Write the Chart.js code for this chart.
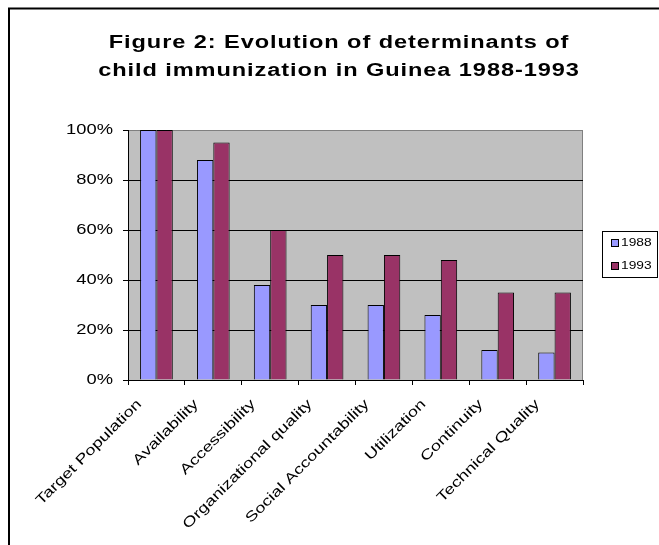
<!DOCTYPE html>
<html>
<head>
<meta charset="utf-8">
<title>Determinants of child immunization in Guinea</title>
<script src="https://cdn.jsdelivr.net/npm/chart.js@4/dist/chart.umd.min.js"></script>
<style>
  html, body { margin: 0; padding: 0; background: #fff; }
  canvas { display: block; }
</style>
</head>
<body>
<canvas id="chart" width="659" height="545"></canvas>
<script>
// Chart data
const TITLE_LINES = ['Figure 2: Evolution of determinants of', 'child immunization in Guinea 1988-1993'];
const CATEGORIES = ['Target Population', 'Availability', 'Accessibility', 'Organizational quality',
                    'Social Accountability', 'Utilization', 'Continuity', 'Technical Quality'];
const SERIES_NAMES = ['1988', '1993'];
const VALUES_1988 = [100, 88, 38, 30, 30, 26, 12, 11];
const VALUES_1993 = [100, 95, 60, 50, 50, 48, 35, 35];
const Y_TICKS = [0, 20, 40, 60, 80, 100];

const FONT = "'Liberation Sans', Arial, sans-serif";
const COLORS = ['#9999FF', '#993366'];
const TEXT_STRETCH = 1.31;   // all text is set slightly wide, like the original worksheet chart

// Widen every text run along its own baseline (works for rotated labels too)
const wideText = {
  id: 'wideText',
  beforeInit(chart) {
    const ctx = chart.ctx;
    const plainFillText = ctx.fillText;
    ctx.fillText = function (text, x, y, maxWidth) {
      this.save();
      this.translate(x, y);
      this.scale(TEXT_STRETCH, 1);
      if (maxWidth === undefined) plainFillText.call(this, text, 0, 0);
      else plainFillText.call(this, text, 0, 0, maxWidth / TEXT_STRETCH);
      this.restore();
    };
  }
};

// Page frame, grey plot background, title and boxed legend
const decorations = {
  id: 'decorations',
  beforeDraw(chart) {
    const { ctx, chartArea: a } = chart;
    ctx.save();
    ctx.fillStyle = '#fff';
    ctx.fillRect(0, 0, chart.width, chart.height);
    ctx.strokeStyle = '#000';
    ctx.lineWidth = 2;
    ctx.beginPath();
    ctx.moveTo(9, chart.height + 4);
    ctx.lineTo(9, 8.5);
    ctx.lineTo(chart.width + 4, 8.5);
    ctx.stroke();
    ctx.fillStyle = '#C0C0C0';
    ctx.fillRect(a.left, a.top, a.right - a.left, a.bottom - a.top);
    ctx.strokeStyle = '#808080';
    ctx.lineWidth = 1;
    ctx.beginPath();
    ctx.moveTo(a.left, a.top + 0.5);
    ctx.lineTo(a.right - 0.5, a.top + 0.5);
    ctx.lineTo(a.right - 0.5, a.bottom);
    ctx.stroke();
    ctx.restore();
  },
  afterDraw(chart) {
    const { ctx } = chart;
    ctx.save();
    // title
    ctx.letterSpacing = '0.7px';
    ctx.fillStyle = '#000';
    ctx.font = 'bold 18px ' + FONT;
    ctx.textAlign = 'center';
    ctx.textBaseline = 'alphabetic';
    TITLE_LINES.forEach((line, i) => ctx.fillText(line, 339, 48 + i * 27.5));
    // legend
    ctx.letterSpacing = '0px';
    const lx = 602.5, ly = 231.5, lw = 55, lh = 46;
    ctx.strokeStyle = '#000';
    ctx.lineWidth = 1;
    ctx.strokeRect(lx, ly, lw, lh);
    ctx.font = '10.5px ' + FONT;
    ctx.textAlign = 'left';
    ctx.textBaseline = 'middle';
    chart.data.datasets.forEach((ds, i) => {
      const cy = 243 + i * 23;
      ctx.fillStyle = ds.backgroundColor;
      ctx.fillRect(611, cy - 4, 8, 8);
      ctx.strokeRect(611.5, cy - 3.5, 7, 7);
      ctx.fillStyle = '#000';
      ctx.fillText(ds.label, 621, cy);
    });
    ctx.restore();
  }
};

new Chart(document.getElementById('chart'), {
  type: 'bar',
  data: {
    labels: CATEGORIES,
    datasets: [
      { label: SERIES_NAMES[0], data: VALUES_1988, backgroundColor: COLORS[0] },
      { label: SERIES_NAMES[1], data: VALUES_1993, backgroundColor: COLORS[1] }
    ]
  },
  options: {
    responsive: false,
    animation: false,
    devicePixelRatio: 1,
    layout: { padding: { top: 130, left: 0, right: 76, bottom: 0 } },
    datasets: {
      bar: {
        borderColor: '#000',
        borderWidth: 1,
        barPercentage: 1,
        categoryPercentage: 0.575
      }
    },
    plugins: {
      legend: { display: false },
      title: { display: false },
      tooltip: { enabled: false }
    },
    scales: {
      x: {
        afterFit(scale) { scale.height = 165; },
        border: { color: '#000', width: 1 },
        grid: { drawOnChartArea: false, drawTicks: true, tickLength: 5, color: '#000', tickColor: '#000' },
        ticks: {
          autoSkip: false,
          minRotation: 45,
          maxRotation: 45,
          padding: 11,
          labelOffset: -17,
          color: '#000',
          font: { family: FONT, size: 14 }
        }
      },
      y: {
        min: Y_TICKS[0],
        max: Y_TICKS[Y_TICKS.length - 1],
        afterFit(scale) { scale.width = 128; },
        afterBuildTicks(scale) { scale.ticks = Y_TICKS.map(v => ({ value: v })); },
        border: { color: '#000', width: 1 },
        grid: {
          tickLength: 5,
          tickColor: '#000',
          color: c => (c.tick && c.tick.value === Y_TICKS[Y_TICKS.length - 1]) ? '#808080' : '#000'
        },
        ticks: {
          padding: 10,
          color: '#000',
          font: { family: FONT, size: 14 },
          callback: v => v + '%'
        }
      }
    }
  },
  plugins: [wideText, decorations]
});
</script>
</body>
</html>
